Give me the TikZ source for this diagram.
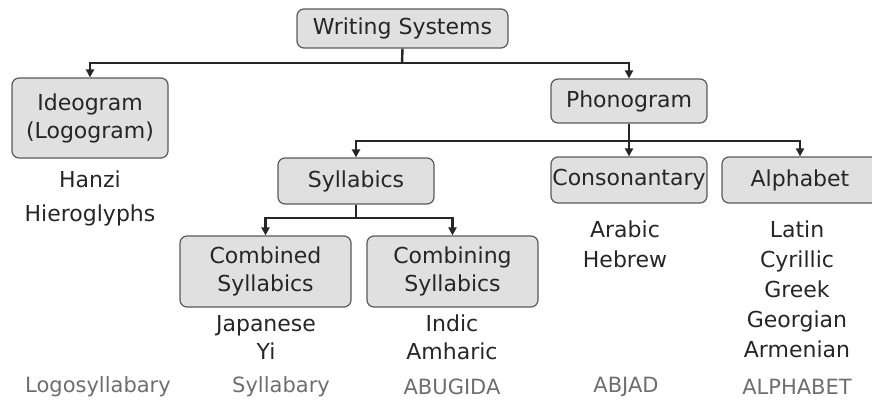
\documentclass[tikz,border=0pt]{standalone}
\usepackage{fontspec}
\setmainfont{DejaVu Sans}
\usetikzlibrary{arrows.meta}
\definecolor{boxfill}{HTML}{E0E0E0}
\definecolor{boxline}{HTML}{5A5A5A}
\definecolor{lbl}{HTML}{6E6E6E}
\tikzset{
  cat/.style={draw=boxline, fill=boxfill, line width=1.2pt, rounded corners=7pt,
    minimum width=156pt, inner sep=0pt, align=center,
    font=\fontsize{22}{28}\selectfont, text=black!85},
  ex/.style={align=center, font=\fontsize{22}{30}\selectfont, text=black!85, inner sep=0pt},
  kind/.style={font=\fontsize{21}{24}\selectfont, text=lbl, inner sep=0pt},
  conn/.style={line width=2.4pt, black!85},
  arr/.style={conn, -{Triangle[length=8pt,width=8pt]}}
}
\begin{document}
\begin{tikzpicture}[x=1pt,y=-1pt]
\useasboundingbox (0,0) rectangle (872,404);
\begin{scope}
\clip (0,0) rectangle (872,404);
% boxes
\node[cat, minimum width=211pt, minimum height=39pt] (ws) at (402.5,28.5) {Writing Systems};
\node[cat, minimum height=80pt] (ideo) at (90,118) {Ideogram\\(Logogram)};
\node[cat, minimum height=44pt] (pho) at (629,101) {Phonogram};
\node[cat, minimum height=46pt] (syl) at (356,181) {Syllabics};
\node[cat, minimum height=46pt] (cons) at (629,180) {Consonantary};
\node[cat, minimum height=46pt] (alph) at (800,180) {Alphabet};
\node[cat, minimum width=171pt, minimum height=71pt] (comb) at (265.5,271.5) {Combined\\Syllabics};
\node[cat, minimum width=171pt, minimum height=71pt] (combi) at (452.5,271.5) {Combining\\Syllabics};
% junctions
\coordinate (j1) at (402,63);
\coordinate (j2) at (629,141);
\coordinate (j3) at (356,218);
% connectors
\draw[conn] (ws.south) -- (j1);
\draw[arr] (j1) -| (ideo.north);
\draw[arr] (j1) -| (pho.north);
\draw[arr] (pho.south) -- (cons.north);
\draw[arr] (j2) -| (syl.north);
\draw[arr] (j2) -| (alph.north);
\draw[conn] (syl.south) -- (j3);
\draw[arr] (j3) -| (comb.north);
\draw[arr] (j3) -| (combi.north);
% examples
\node[ex, anchor=north, font=\fontsize{22}{34}\selectfont] (exideo) at (90,171) {Hanzi\\Hieroglyphs};
\node[ex, anchor=north, font=\fontsize{22}{28}\selectfont] (excomb) at (266,315) {Japanese\\Yi};
\node[ex, anchor=north, font=\fontsize{22}{28}\selectfont] (excombi) at (452,315) {Indic\\Amharic};
\node[ex, anchor=north] (excons) at (625,221) {Arabic\\Hebrew};
\node[ex, anchor=north] (exalph) at (797,221) {Latin\\Cyrillic\\Greek\\Georgian\\Armenian};
% kinds
\node[kind] (k1) at (98,387) {Logosyllabary};
\node[kind] (k2) at (281,387) {Syllabary};
\node[kind] (k3) at (452,387) {ABUGIDA};
\node[kind] (k4) at (626,387) {ABJAD};
\node[kind] (k5) at (797,387) {ALPHABET};
\end{scope}
\end{tikzpicture}
\end{document}
